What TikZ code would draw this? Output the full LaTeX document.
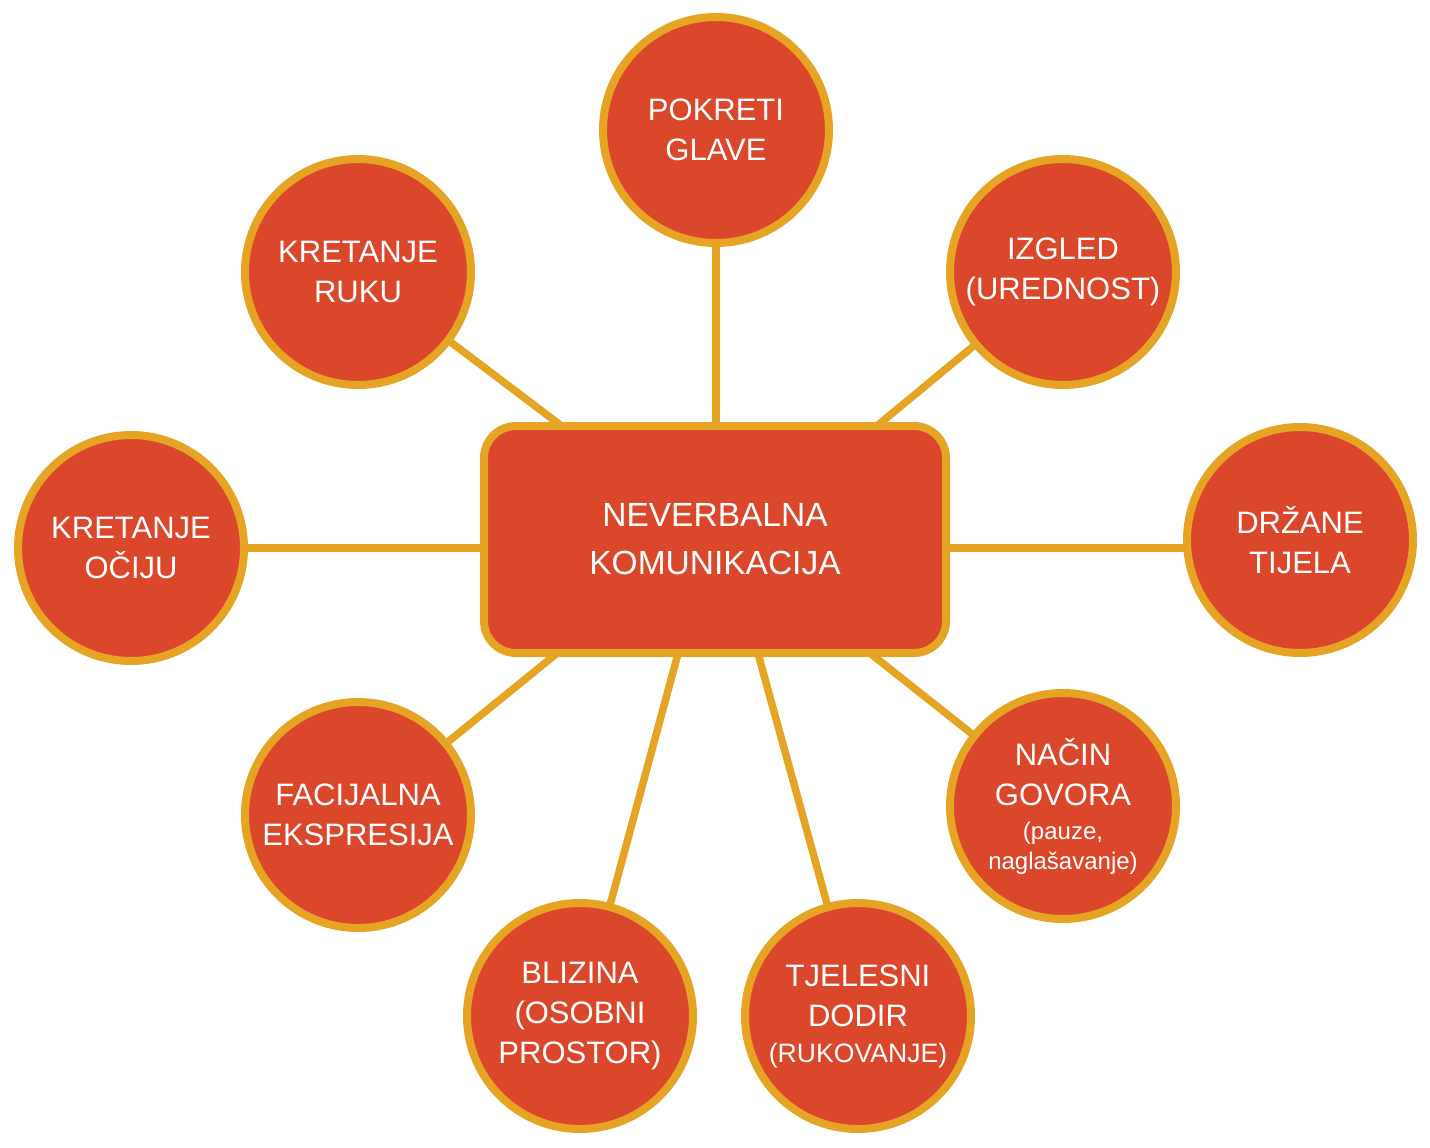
\documentclass[tikz,border=0pt]{standalone}
\usepackage{fontspec}
\setmainfont{Liberation Sans}
\usetikzlibrary{backgrounds}
\definecolor{nodefill}{RGB}{218,71,42}
\definecolor{nodeline}{RGB}{230,164,36}
\tikzset{
  bubble/.style={circle, draw=nodeline, fill=nodefill, line width=4pt,
    minimum size=113pt, inner sep=0pt, text=white, align=center,
    font=\fontsize{15.5}{20}\selectfont},
  hub/.style={rectangle, rounded corners=16pt, draw=nodeline, fill=nodefill,
    line width=4pt, minimum width=231pt, minimum height=113.5pt,
    text=white, align=center, font=\fontsize{16.75}{24}\selectfont},
  link/.style={draw=nodeline, line width=3.75pt},
}
\begin{document}
\begin{tikzpicture}[x=0.5pt,y=-0.5pt]
\useasboundingbox (0,0) rectangle (1430,1147);
\node[hub] (hub) at (715,539.5) {NEVERBALNA\\KOMUNIKACIJA};
\node[bubble] (glave) at (716,130) {POKRETI\\GLAVE};
\node[bubble] (ruku) at (358,272) {KRETANJE\\RUKU};
\node[bubble] (izgled) at (1063,272) {IZGLED\\(UREDNOST)};
\node[bubble] (oci) at (131,548) {KRETANJE\\OČIJU};
\node[bubble] (drzane) at (1300,540) {DRŽANE\\TIJELA};
\node[bubble] (facijalna) at (358,815) {FACIJALNA\\EKSPRESIJA};
\node[bubble] (nacin) at (1063,806) {NAČIN\\GOVORA\\[-3pt]{\fontsize{12}{13.5}\selectfont (pauze,}\\[-5pt]{\fontsize{12}{13.5}\selectfont naglašavanje)}};
\node[bubble] (blizina) at (580,1016) {BLIZINA\\(OSOBNI\\PROSTOR)};
\node[bubble] (dodir) at (858,1016) {TJELESNI\\DODIR\\[-2pt]{\fontsize{13.3}{16}\selectfont (RUKOVANJE)}};
\coordinate (hglave) at (716,430);
\coordinate (hruku) at (567,430);
\coordinate (hizgled) at (872,430);
\coordinate (hoci) at (490,548);
\coordinate (hdrzane) at (940,548);
\coordinate (hfac) at (561,650);
\coordinate (hnacin) at (866,650);
\coordinate (hbliz) at (679,650);
\coordinate (hdodir) at (757,650);
\begin{pgfonlayer}{background}
\draw[link] (glave.center) -- (hglave);
\draw[link] (ruku.center) -- (hruku);
\draw[link] (izgled.center) -- (hizgled);
\draw[link] (oci.center) -- (hoci);
\draw[link] (hdrzane) -- (hdrzane -| drzane.center);
\draw[link] (facijalna.center) -- (hfac);
\draw[link] (nacin.center) -- (hnacin);
\draw[link] (blizina.center) -- (hbliz);
\draw[link] (dodir.center) -- (hdodir);
\end{pgfonlayer}
\end{tikzpicture}
\end{document}
